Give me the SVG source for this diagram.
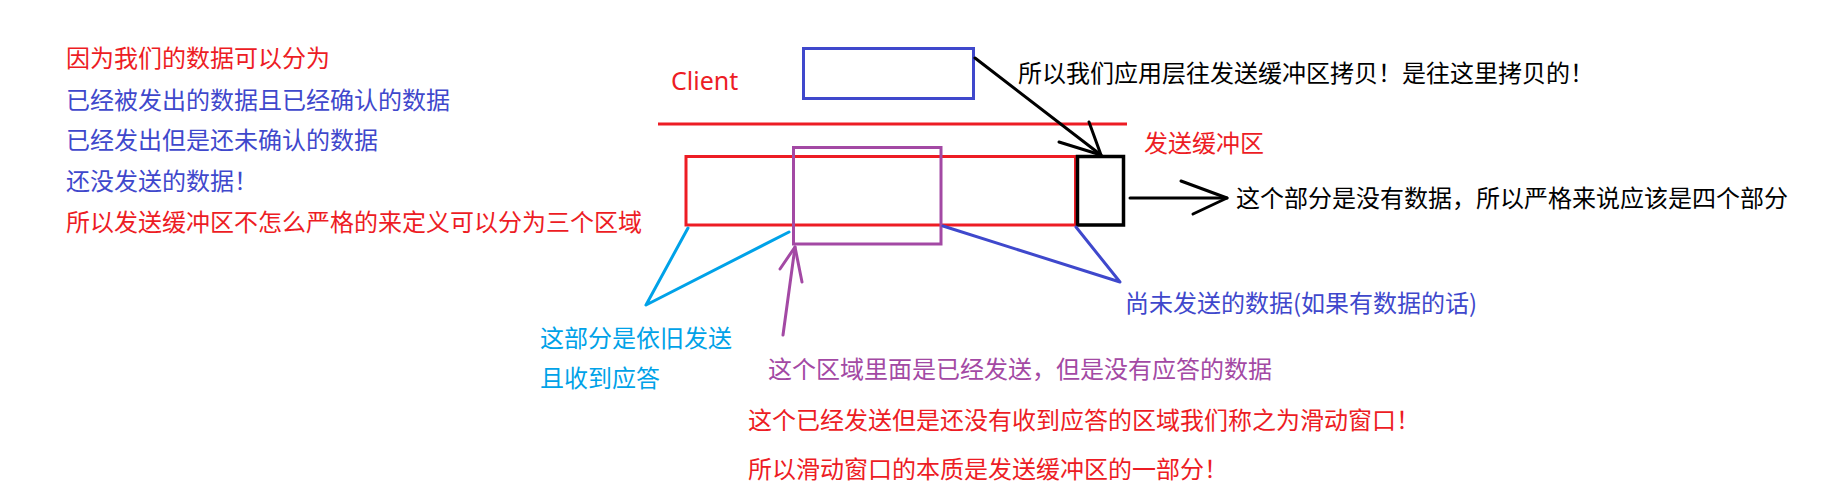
<svg xmlns="http://www.w3.org/2000/svg" width="1831" height="493" viewBox="0 0 1831 493">
<style>
text{font-family:"Noto Sans CJK SC","Noto Sans",sans-serif;font-size:24px}
.red{fill:#ED1C24}.blue{fill:#3F48CC}.cyan{fill:#00A2E8}.purple{fill:#A349A4}.black{fill:#000}
.box{fill:none;stroke-width:3}
.ln{fill:none;stroke-width:3;stroke-linecap:round;stroke-linejoin:round}
</style>
<rect width="1831" height="493" fill="#fff"/>
<g id="notes-left">
<text x="66" y="67" class="red">因为我们的数据可以分为</text>
<text x="66" y="109" class="blue">已经被发出的数据且已经确认的数据</text>
<text x="66" y="149" class="blue">已经发出但是还未确认的数据</text>
<text x="66" y="190" class="blue">还没发送的数据！</text>
<text x="66" y="231" class="red">所以发送缓冲区不怎么严格的来定义可以分为三个区域</text>
</g>
<g id="client-label"><text x="671" y="90" class="red" style="font-family:'Noto Sans',sans-serif;font-size:25px">Client</text></g>
<g id="client-divider"><line x1="658" y1="124" x2="1127" y2="124" stroke="#ED1C24" stroke-width="3"/></g>
<g id="app-box"><rect x="803.5" y="48.5" width="170" height="50" class="box" stroke="#3F48CC"/></g>
<g id="send-buffer"><rect x="686" y="156.5" width="389.5" height="68.5" class="box" stroke="#ED1C24"/></g>
<g id="sliding-window"><rect x="793.5" y="147.5" width="147.5" height="96.5" class="box" stroke="#A349A4"/></g>
<g id="empty-part"><rect x="1077.5" y="156.5" width="46" height="68.5" fill="none" stroke="#000" stroke-width="3.5"/></g>
<g id="buffer-label"><text x="1144" y="151.5" class="red">发送缓冲区</text></g>
<g id="copy-note"><text x="1018" y="81.5" class="black">所以我们应用层往发送缓冲区拷贝！是往这里拷贝的！</text></g>
<g id="empty-note"><text x="1236" y="206.5" class="black">这个部分是没有数据，所以严格来说应该是四个部分</text></g>
<g id="unsent-note"><text x="1125" y="311.5" class="blue">尚未发送的数据(如果有数据的话)</text></g>
<g id="acked-note">
<text x="540" y="346.5" class="cyan">这部分是依旧发送</text>
<text x="540" y="386.5" class="cyan">且收到应答</text>
</g>
<g id="window-note"><text x="768" y="378" class="purple">这个区域里面是已经发送，但是没有应答的数据</text></g>
<g id="summary">
<text x="748" y="429" class="red">这个已经发送但是还没有收到应答的区域我们称之为滑动窗口！</text>
<text x="748" y="478" class="red">所以滑动窗口的本质是发送缓冲区的一部分！</text>
</g>
<g id="connectors">
<g stroke="#000">
<line x1="975" y1="58" x2="1101" y2="155" class="ln"/>
<polyline points="1089,122 1101,155 1059,142" class="ln"/>
<line x1="1130" y1="198" x2="1227" y2="198" class="ln"/>
<polyline points="1181,181 1227,198 1193,214" class="ln"/>
</g>
<polyline points="688,228 646,305 789,232" class="ln" stroke="#00A2E8"/>
<g stroke="#A349A4">
<line x1="783" y1="335" x2="795" y2="247" class="ln"/>
<polyline points="780,269 795,247 802,282" class="ln"/>
</g>
<polyline points="943,226 1120,282 1076,227" class="ln" stroke="#3F48CC"/>
</g>
</svg>
